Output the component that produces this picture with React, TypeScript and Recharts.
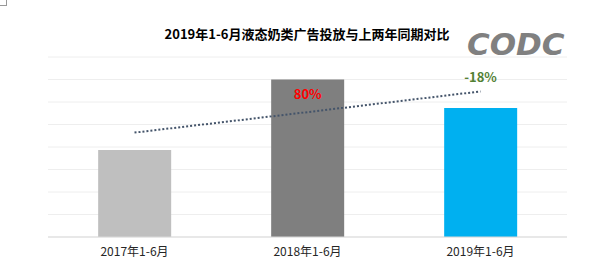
import {
  ComposedChart,
  Bar,
  Line,
  Cell,
  XAxis,
  YAxis,
  CartesianGrid,
  LabelList,
} from 'recharts';

// values, in gridline units
const periods = ['2017年1-6月', '2018年1-6月', '2019年1-6月'];
const spend = [3.87, 7.0, 5.73];
const trend = [4.64, 5.55, 6.47];
const barNotes = ['', '80%', ''];
const trendNotes = ['', '', '-18%'];
const barColors = ['#BFBFBF', '#7F7F7F', '#00B0F0'];
const gridTicks = [0, 1, 2, 3, 4, 5, 6, 7, 8];

const data = periods.map((period, i) => ({
  period,
  spend: spend[i],
  trend: trend[i],
  barNote: barNotes[i],
  trendNote: trendNotes[i],
}));

const cjk = '"Noto Sans CJK SC", "Noto Sans", sans-serif';

export default function App() {
  return (
    <div
      style={{
        position: 'absolute',
        left: 0,
        top: 0,
        width: 600,
        height: 274,
        background: '#fff',
        fontFamily: cjk,
      }}
    >
      <div
        style={{
          position: 'absolute',
          left: 0,
          top: 0,
          width: 6,
          height: 5,
          borderRight: '1px solid #999',
          borderBottom: '1px solid #999',
        }}
      />
      <div
        style={{
          position: 'absolute',
          left: 0,
          width: 614,
          top: 24,
          textAlign: 'center',
          fontSize: 13,
          fontWeight: 700,
          color: '#000',
        }}
      >
        2019年1-6月液态奶类广告投放与上两年同期对比
      </div>
      <div
        style={{
          position: 'absolute',
          left: 467,
          top: 26,
          fontFamily: '"DejaVu Sans", sans-serif',
          fontStyle: 'italic',
          fontWeight: 700,
          fontSize: 31,
          letterSpacing: 0,
          color: '#808080',
        }}
      >
        CODC
      </div>
      <ComposedChart
        width={600}
        height={274}
        data={data}
        margin={{ top: 57, right: 33, bottom: 7, left: 48 }}
        barCategoryGap="29%"
      >
        <CartesianGrid vertical={false} stroke="#EEEEEE" />
        <XAxis
          dataKey="period"
          axisLine={{ stroke: '#D9D9D9' }}
          tickLine={false}
          height={30}
          tick={{ fontSize: 12, fill: '#262626', fontFamily: cjk }}
          tickMargin={4}
        />
        <YAxis hide domain={[0, 8]} ticks={gridTicks} interval={0} />
        <Bar dataKey="spend" isAnimationActive={false}>
          {data.map((d, i) => (
            <Cell key={d.period} fill={barColors[i]} />
          ))}
          <LabelList
            dataKey="barNote"
            position="insideTop"
            offset={10}
            fill="#FF0000"
            fontSize={13}
            fontWeight={700}
          />
        </Bar>
        <Line
          dataKey="trend"
          stroke="#44546A"
          strokeWidth={2}
          strokeDasharray="2 2"
          dot={false}
          activeDot={false}
          isAnimationActive={false}
        >
          <LabelList
            dataKey="trendNote"
            position="top"
            offset={9}
            fill="#538135"
            fontSize={13}
            fontWeight={700}
          />
        </Line>
      </ComposedChart>
    </div>
  );
}
